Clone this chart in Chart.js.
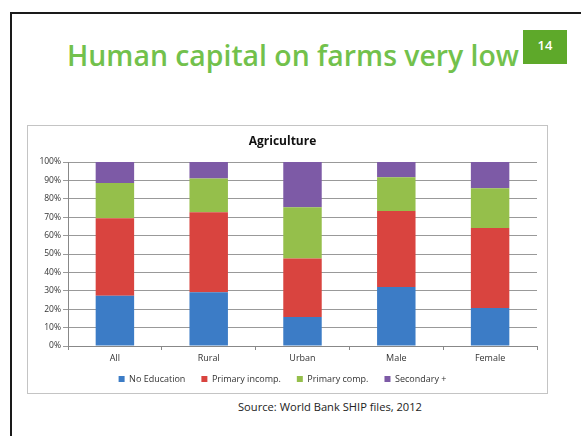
<!DOCTYPE html>
<html>
<head>
<meta charset="utf-8">
<script src="https://cdn.jsdelivr.net/npm/chart.js@4"></script>
<style>
  body { margin: 0; background: #fff; width: 581px; height: 436px; overflow: hidden; position: relative; }
  #slide { position: absolute; left: 10px; top: 12px; width: 620px; height: 500px; border: 2px solid #1a1a1a; }
  #title { position: absolute; left: 67px; top: 36px; font-family: "Open Sans", sans-serif; font-weight: 600;
           font-size: 28px; color: #72c14c; white-space: nowrap; transform-origin: left top; }
  #pageNum { position: absolute; left: 523px; top: 30px; width: 44px; height: 34px; background: #5ea92a;
             color: #fff; font-family: "Open Sans", sans-serif; font-weight: 600; font-size: 13px;
             text-align: center; line-height: 30px; }
  #chartBox { position: absolute; left: 27px; top: 125px; width: 519px; height: 267px; border: 1px solid #c4c4c4; }
  #source { position: absolute; left: 238px; top: 399px; font-family: "Open Sans", sans-serif; font-size: 11px;
            color: #222; white-space: nowrap; transform-origin: left top; }
</style>
</head>
<body>
<div id="slide"></div>
<div id="title">Human capital on farms very low</div>
<div id="pageNum">14</div>
<div id="chartBox"><canvas id="eduChart" width="519" height="267"></canvas></div>
<div id="source">Source: World Bank SHIP files, 2012</div>
<script>
const groups = ['All', 'Rural', 'Urban', 'Male', 'Female'];
const noEducation = [27.3, 29.2, 15.8, 32.1, 20.7];
const primaryIncomp = [42.1, 43.5, 31.8, 41.3, 43.4];
const primaryComp = [19.2, 18.4, 27.8, 18.3, 21.6];
const secondaryPlus = [11.4, 8.9, 24.6, 8.3, 14.3];
const yTicks = [0, 10, 20, 30, 40, 50, 60, 70, 80, 90, 100];

// stretch a text block to the width it has in the slide
function fitWidth(id, target) {
    const el = document.getElementById(id);
    const w = el.getBoundingClientRect().width;
    el.style.transform = `scaleX(${target / w})`;
}
fitWidth('title', 452);
fitWidth('source', 184);

// keep wide gaps between legend items without the tall box that padding brings
const legendHeight = {
    id: 'legendHeight',
    beforeUpdate(chart) {
        const lg = chart.legend;
        if (lg && !lg._fixed) {
            const fit = lg.fit.bind(lg);
            lg.fit = function () { fit(); this.height = 23; };
            lg._fixed = true;
        }
    },
    afterLayout(chart) {
        const lg = chart.legend;
        lg.top -= 6.5;
        lg.bottom = lg.top + 32;
        lg.height = 32;
    },
};

new Chart(document.getElementById('eduChart'), {
    type: 'bar',
    data: {
        labels: groups,
        datasets: [
            { label: 'No Education', data: noEducation, backgroundColor: '#3c7cc6' },
            { label: 'Primary incomp.', data: primaryIncomp, backgroundColor: '#d9443f' },
            { label: 'Primary comp.', data: primaryComp, backgroundColor: '#95bf4b' },
            { label: 'Secondary +', data: secondaryPlus, backgroundColor: '#7d5aa6' },
        ],
    },
    options: {
        responsive: false,
        animation: false,
        layout: { padding: { top: 8, right: 10, bottom: 5, left: 0 } },
        datasets: { bar: { categoryPercentage: 1, barPercentage: 0.41 } },
        plugins: {
            title: {
                display: true, text: 'Agriculture', color: '#111',
                font: { family: 'Open Sans', size: 12, weight: 'bold' },
                padding: { top: 0, bottom: 13.6 },
            },
            legend: {
                position: 'bottom',
                labels: { boxWidth: 6, boxHeight: 6, padding: 16, color: '#333', font: { family: 'Open Sans', size: 9 } },
            },
            tooltip: { enabled: false },
        },
        scales: {
            x: {
                stacked: true,
                grid: { offset: true, drawOnChartArea: false, tickLength: 4, color: '#888' },
                border: { color: '#888' },
                ticks: { color: '#333', font: { family: 'Open Sans', size: 9 }, padding: 3 },
                afterFit: (s) => { s.height = 19; },
            },
            y: {
                stacked: true, min: 0, max: 100,
                afterBuildTicks: (s) => { s.ticks = yTicks.map((v) => ({ value: v })); },
                grid: { color: '#999', tickLength: 5 },
                border: { color: '#888' },
                ticks: { color: '#333', font: { family: 'Open Sans', size: 8.5 }, padding: 2, callback: (v) => v + '%' },
                afterFit: (s) => { s.width = 40; },
            },
        },
    },
    plugins: [legendHeight],
});
</script>
</body>
</html>
